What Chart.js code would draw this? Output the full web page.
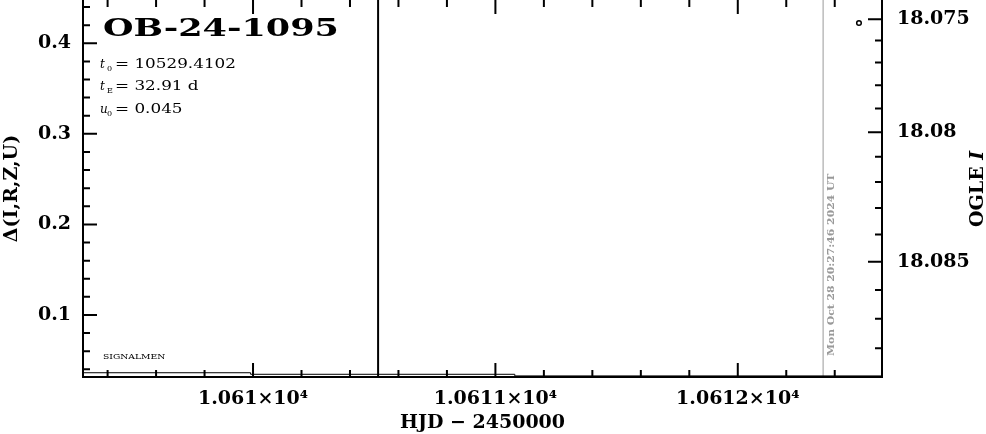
<!DOCTYPE html>
<html>
<head>
<meta charset="utf-8">
<script src="https://cdn.jsdelivr.net/npm/chart.js@4.4.1/dist/chart.umd.min.js"></script>
<style>
  html, body { margin:0; padding:0; background:#fff; }
  canvas { display:block; }
</style>
</head>
<body>
<canvas id="lc" width="986" height="434"></canvas>
<script>
// Event name and fit parameters printed on the plot
const eventName = 'OB-24-1095';
const paramNames = ['t', 't', 'u'];
const paramSubs = ['0', 'E', '0'];
const paramValues = ['= 10529.4102', '= 32.91 d', '= 0.045'];
const labelTag = 'SIGNALMEN';

// Axis ranges and ticks
const hjdRange = [10609.2985, 10612.595];
const deltaRange = [0.0315, 0.4478];
const xTicks = [10610, 10611, 10612];
const xTickLabels = ['1.061×10⁴', '1.0611×10⁴', '1.0612×10⁴'];
const yTicks = [0.1, 0.2, 0.3, 0.4];
const yTickLabels = ['0.1', '0.2', '0.3', '0.4'];
const magTicks = [18.075, 18.08, 18.085];
const magTickLabels = ['18.075', '18.08', '18.085'];

// Model curve (levels)
const modelHJD = [10609.30, 10609.99, 10611.08, 10612.60];
const modelDelta = [0.0362, 0.0345, 0.0327, 0.0327];

// OGLE point
const ogleHJD = [10612.50];
const ogleDelta = [0.4224];

// Vertical markers
const markerHJD = [10610.516];
const nowHJD = [10612.352];
const nowLabel = 'Mon Oct 28 20:27:46 2024 UT';

// right axis: OGLE I magnitude <-> delta
const magZero = 18.08, magK = 27.1, magA = 0.9855, magB = 1.2872;
const magToDelta = m => magB - magA * Math.exp(magK * (m - magZero));
const deltaToMag = d => magZero + Math.log((magB - d) / magA) / magK;

const SERIF = '"DejaVu Serif", serif';
const tickFont = { family: 'DejaVu Serif', weight: 'bold', size: 19 };

function stretchText(ctx, text, x, y, font, sx) {
  ctx.font = font;
  ctx.save();
  ctx.translate(x, y);
  ctx.scale(sx, 1);
  ctx.fillText(text, 0, 0);
  ctx.restore();
  return ctx.measureText(text).width * sx;
}

const vline = xs => xs.flatMap(x => [{ x, y: deltaRange[0] }, { x, y: deltaRange[1] }]);

// scales keep their label overhang to themselves
const noPad = s => { s.paddingTop = 0; s.paddingBottom = 0; s.paddingLeft = 0; s.paddingRight = 0; };

// frame, inward ticks on all sides, annotations
const decorations = {
  id: 'decorations',
  afterDraw(chart) {
    const { ctx, chartArea: a, scales: { x, y } } = chart;
    ctx.save();
    ctx.strokeStyle = '#000';
    ctx.lineWidth = 2;
    ctx.beginPath();
    ctx.moveTo(a.left, a.top - 1.5); ctx.lineTo(a.right, a.top - 1.5);
    ctx.moveTo(a.left, a.top); ctx.lineTo(a.left, a.bottom);
    ctx.moveTo(a.left - 1, a.bottom); ctx.lineTo(a.right + 1, a.bottom);
    ctx.moveTo(a.right, a.top); ctx.lineTo(a.right, a.bottom);

    // x ticks every 0.2 d, bottom and top
    for (let i = Math.ceil(x.min * 5); i <= Math.floor(x.max * 5); i++) {
      const px = x.getPixelForValue(i / 5);
      const len = i % 5 === 0 ? 14 : 7;
      ctx.moveTo(px, a.bottom); ctx.lineTo(px, a.bottom - len);
      ctx.moveTo(px, a.top); ctx.lineTo(px, a.top + len);
    }
    // left ticks every 0.02
    for (let i = Math.ceil(y.min * 50); i <= Math.floor(y.max * 50); i++) {
      const py = y.getPixelForValue(i / 50);
      const len = i % 5 === 0 ? 14 : 7;
      ctx.moveTo(a.left, py); ctx.lineTo(a.left + len, py);
    }
    // right ticks every 0.001 mag
    for (let k = 18070; k <= 18095; k++) {
      const d = magToDelta(k / 1000);
      if (d < y.min || d > y.max) continue;
      const py = y.getPixelForValue(d);
      const len = k % 5 === 0 ? 14 : 7;
      ctx.moveTo(a.right, py); ctx.lineTo(a.right - len, py);
    }
    ctx.stroke();

    ctx.fillStyle = '#000';
    ctx.textBaseline = 'alphabetic';
    stretchText(ctx, eventName, 103, 36, 'bold 25px ' + SERIF, 1.4);

    paramNames.forEach((n, i) => {
      const yb = 68 + i * 22.3;
      ctx.font = 'italic 12px ' + SERIF;
      ctx.fillText(n, 100, yb);
      ctx.font = '8px ' + SERIF;
      ctx.fillText(paramSubs[i], 107, yb + 3);
      stretchText(ctx, paramValues[i], 115, yb, '12px ' + SERIF, 1.4);
    });

    stretchText(ctx, labelTag, 103, 359, '8px ' + SERIF, 1.15);

    // date of the plot, along the grey line
    ctx.save();
    ctx.translate(833.5, 356);
    ctx.rotate(-Math.PI / 2);
    ctx.fillStyle = '#999';
    stretchText(ctx, nowLabel, 0, 0, 'bold 9px ' + SERIF, 1.2);
    ctx.restore();

    // right axis title
    ctx.save();
    ctx.translate(983, 227);
    ctx.rotate(-Math.PI / 2);
    ctx.font = 'bold 19px ' + SERIF;
    ctx.fillText('OGLE ', 0, 0);
    const w = ctx.measureText('OGLE ').width;
    ctx.font = 'italic bold 19px ' + SERIF;
    ctx.fillText('I', w, 0);
    ctx.restore();

    ctx.restore();
  }
};

new Chart(document.getElementById('lc'), {
  type: 'scatter',
  data: {
    datasets: [
      { data: modelHJD.map((v, i) => ({ x: v, y: modelDelta[i] })), showLine: true, stepped: 'before',
        borderColor: '#000', borderWidth: 1, pointRadius: 0 },
      { data: vline(markerHJD), showLine: true, borderColor: '#000', borderWidth: 2, pointRadius: 0 },
      { data: vline(nowHJD), showLine: true, borderColor: '#999', borderWidth: 1, pointRadius: 0 },
      { data: ogleHJD.map((v, i) => ({ x: v, y: ogleDelta[i] })), pointRadius: 2.3, borderWidth: 1.5,
        borderColor: '#000', backgroundColor: '#fff' }
    ]
  },
  options: {
    responsive: false,
    animation: false,
    layout: { padding: 0, autoPadding: false },
    plugins: { legend: { display: false }, tooltip: { enabled: false } },
    scales: {
      x: {
        type: 'linear', min: hjdRange[0], max: hjdRange[1],
        grid: { display: false, drawTicks: false }, border: { display: false },
        afterBuildTicks: s => { s.ticks = xTicks.map(v => ({ value: v })); },
        afterFit: s => { s.height = 57; noPad(s); },
        ticks: { autoSkip: false, maxRotation: 0, padding: 11, color: '#000', font: tickFont,
          callback: (v, i) => xTickLabels[i] },
        title: { display: true, text: 'HJD − 2450000', color: '#000', font: tickFont, padding: 0 }
      },
      y: {
        type: 'linear', position: 'left', min: deltaRange[0], max: deltaRange[1],
        grid: { display: false, drawTicks: false }, border: { display: false },
        afterBuildTicks: s => { s.ticks = yTicks.map(v => ({ value: v })); },
        afterFit: s => { s.width = 83; noPad(s); },
        ticks: { autoSkip: false, padding: 12, color: '#000', font: tickFont,
          callback: (v, i) => yTickLabels[i] },
        title: { display: true, text: 'Δ(I,R,Z,U)', color: '#000', font: tickFont, padding: { top: 1, bottom: 0 } }
      },
      y2: {
        type: 'linear', position: 'right', min: deltaRange[0], max: deltaRange[1],
        grid: { display: false, drawTicks: false }, border: { display: false },
        afterBuildTicks: s => { s.ticks = magTicks.map(m => ({ value: magToDelta(m) })); },
        afterFit: s => { s.width = 104; noPad(s); },
        ticks: { autoSkip: false, padding: 15, color: '#000', font: tickFont,
          callback: (v, i) => magTickLabels[i] }
      }
    }
  },
  plugins: [decorations]
});
</script>
</body>
</html>
